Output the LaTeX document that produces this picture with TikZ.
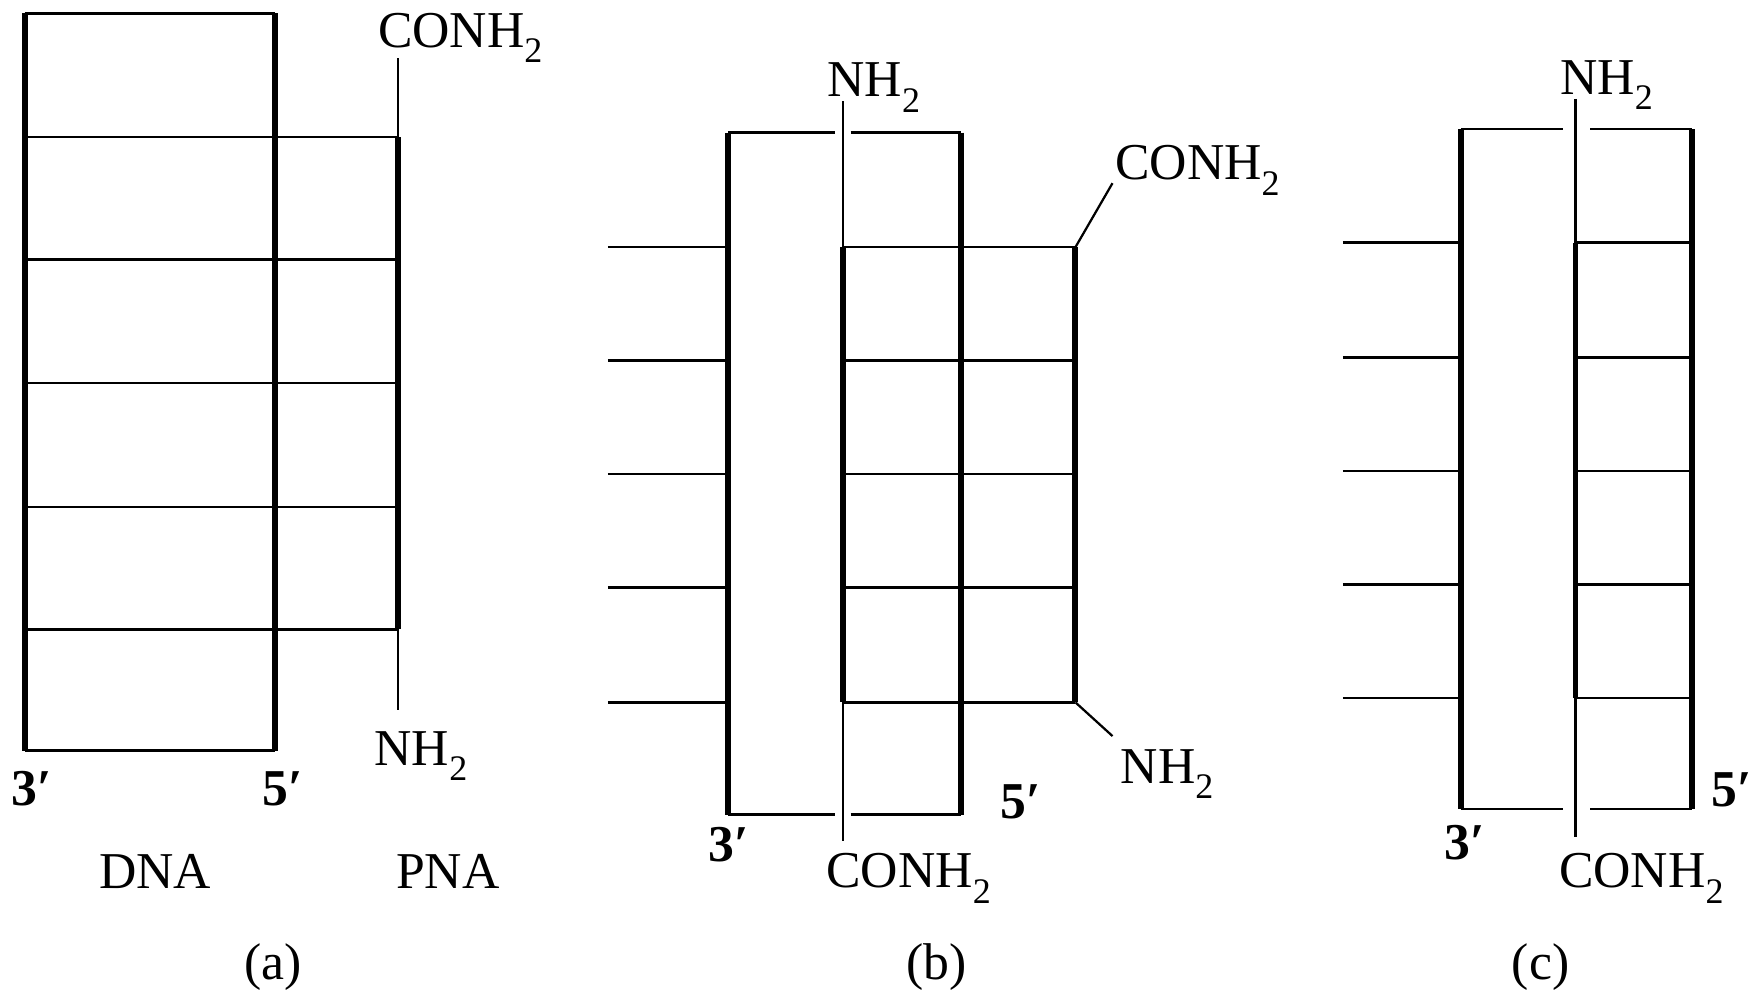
\documentclass[tikz,border=0pt]{standalone}
\usepackage{fontspec}
\setmainfont{Liberation Serif}
\newcommand{\sbtwo}{\raisebox{-0.3em}{\fontsize{16}{16}\selectfont 2}}
\tikzset{
  strand/.style={line width=2.6pt, line cap=butt},
  rung/.style={line width=1.1pt},
  tail/.style={line width=1pt},
  lbl/.style={anchor=base west, inner sep=0pt, font=\fontsize{23}{25}\selectfont},
  prm/.style={anchor=base west, inner sep=0pt, font=\fontsize{23}{25}\selectfont\bfseries}
}
\begin{document}
\begin{tikzpicture}[x=0.5pt,y=-0.5pt]
\useasboundingbox (0,0) rectangle (1568,884);
% ---------------- panel (a) ----------------
\coordinate (aLT) at (22,12);  \coordinate (aLB) at (22,668);
\coordinate (aRT) at (245,12); \coordinate (aRB) at (245,668);
\draw[rung] (aLT) -- (aRT);
\draw[rung] (aLB) -- (aRB);
\draw[strand] (aLT) -- (aLB);
\draw[strand] (aRT) -- (aRB);
\foreach \y in {122,231,341,451,560} \draw[rung] (22,\y) -- (354,\y);
\coordinate (aPT) at (354,122); \coordinate (aPB) at (354,560);
\coordinate (aPt) at (354,52);  \coordinate (aPb) at (354,632);
\draw[strand] (aPT) -- (aPB);
\draw[tail] (aPt) -- (aPT);
\draw[tail] (aPB) -- (aPb);
\node[lbl] (aC) at (336,42) {CONH\sbtwo};
\node[lbl] (aN) at (333,681) {NH\sbtwo};
\node[prm] (a3) at (10,717) {3′};
\node[prm] (a5) at (233,717) {5′};
\node[lbl] (aDNA) at (88,791) {DNA};
\node[lbl] (aPNA) at (352,791) {PNA};
\node[lbl] (acap) at (217,872) {(a)};
% ---------------- panel (b) ----------------
\coordinate (bLT) at (648,118); \coordinate (bLB) at (648,725);
\coordinate (bRT) at (855,118); \coordinate (bRB) at (855,725);
\draw[strand] (bLT) -- (bLB);
\draw[strand] (bRT) -- (bRB);
\draw[rung] (bLT) -- (743,118);
\draw[rung] (757,118) -- (bRT);
\draw[rung] (bLB) -- (743,725);
\draw[rung] (757,725) -- (bRB);
\foreach \y in {220,321,422,523,625} {
  \draw[rung] (541,\y) -- (648,\y);
  \draw[rung] (750,\y) -- (957,\y);
}
\coordinate (bPT) at (750,220); \coordinate (bPB) at (750,625);
\coordinate (bPt) at (750,90);  \coordinate (bPb) at (750,748);
\draw[strand] (bPT) -- (bPB);
\draw[tail] (bPt) -- (bPT);
\draw[tail] (bPB) -- (bPb);
\coordinate (bQT) at (957,220); \coordinate (bQB) at (957,625);
\coordinate (bQt) at (990,163); \coordinate (bQb) at (990,655);
\draw[strand] (bQT) -- (bQB);
\draw[tail] (bQT) -- (bQt);
\draw[tail] (bQB) -- (bQb);
\node[lbl] (bN1) at (736,86) {NH\sbtwo};
\node[lbl] (bC1) at (992,160) {CONH\sbtwo};
\node[lbl] (bN2) at (997,697) {NH\sbtwo};
\node[lbl] (bC2) at (735,790) {CONH\sbtwo};
\node[prm] (b5) at (890,728) {5′};
\node[prm] (b3) at (630,767) {3′};
\node[lbl] (bcap) at (806,872) {(b)};
% ---------------- panel (c) ----------------
\coordinate (cLT) at (1300,115); \coordinate (cLB) at (1300,720);
\coordinate (cRT) at (1506,115); \coordinate (cRB) at (1506,720);
\draw[strand] (cLT) -- (cLB);
\draw[strand] (cRT) -- (cRB);
\draw[rung] (cLT) -- (1391,115);
\draw[rung] (1415,115) -- (cRT);
\draw[rung] (cLB) -- (1391,720);
\draw[rung] (1415,720) -- (cRB);
\foreach \y in {216,318,419,520,621} {
  \draw[rung] (1195,\y) -- (1300,\y);
  \draw[rung] (1402,\y) -- (1506,\y);
}
\coordinate (cPT) at (1402,216); \coordinate (cPB) at (1402,621);
\coordinate (cPt) at (1402,88);  \coordinate (cPb) at (1402,745);
\draw[strand] (cPT) -- (cPB);
\draw[tail] (cPt) -- (cPT);
\draw[tail] (cPB) -- (cPb);
\node[lbl] (cN) at (1388,84) {NH\sbtwo};
\node[lbl] (cC) at (1387,790) {CONH\sbtwo};
\node[prm] (c3) at (1285,765) {3′};
\node[prm] (c5) at (1523,718) {5′};
\node[lbl] (ccap) at (1345,872) {(c)};
\end{tikzpicture}
\end{document}
